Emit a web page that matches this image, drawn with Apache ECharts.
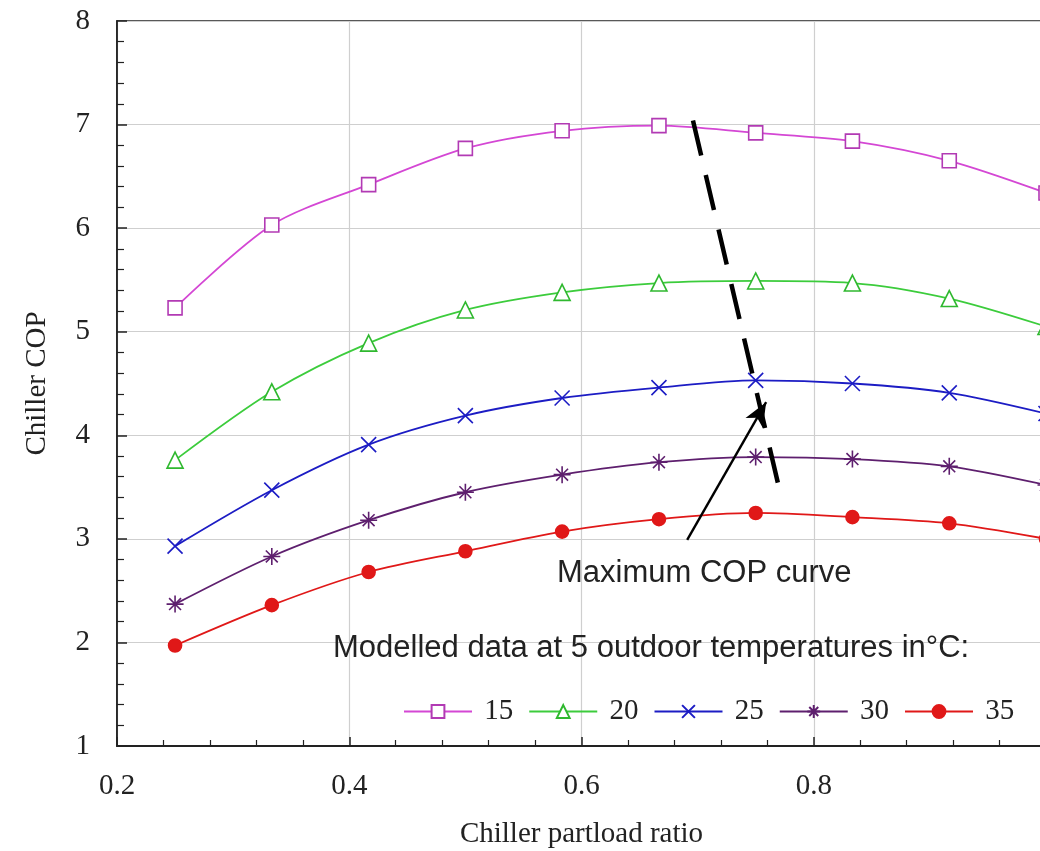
<!DOCTYPE html>
<html>
<head>
<meta charset="utf-8">
<script src="https://cdn.jsdelivr.net/npm/echarts@6/dist/echarts.min.js"></script>
<style>
  html, body { margin: 0; padding: 0; background: #fff; }
  #chart { width: 1040px; height: 851px; }
</style>
</head>
<body>
<div id="chart"></div>
<script>
// ---- data ----
const partload = [0.25, 0.3333, 0.4167, 0.5, 0.5833, 0.6667, 0.75, 0.8333, 0.9167, 1.0];
const seriesNames = ['15', '20', '25', '30', '35'];
const cop15 = [5.23, 6.03, 6.42, 6.77, 6.94, 6.99, 6.92, 6.84, 6.65, 6.34];
const cop20 = [3.76, 4.42, 4.89, 5.21, 5.38, 5.47, 5.49, 5.47, 5.32, 5.05];
const cop25 = [2.93, 3.47, 3.91, 4.19, 4.36, 4.46, 4.53, 4.50, 4.41, 4.21];
const cop30 = [2.37, 2.83, 3.18, 3.45, 3.62, 3.74, 3.79, 3.77, 3.70, 3.52];
const cop35 = [1.97, 2.36, 2.68, 2.88, 3.07, 3.19, 3.25, 3.21, 3.15, 3.00];
const maxCopX = [0.696, 0.771];
const maxCopY = [7.04, 3.45];
const arrowStart = [0.691, 2.99];
const arrowEnd = [0.759, 4.32];
const xTickValues = [0.2, 0.4, 0.6, 0.8, 1.0];
const yTickValues = [1, 2, 3, 4, 5, 6, 7, 8];
const annotationText = 'Maximum COP curve';
const legendTitle = 'Modelled data at 5 outdoor temperatures in\u00B0C:';

// ---- build ----
const SERIF = '"Liberation Serif", "DejaVu Serif", serif';
const SANS = '"Liberation Sans", Arial, sans-serif';
const pair = (xs, ys) => xs.map((x, i) => [x, ys[i]]);

const styles = [
  { line: '#d447d4', border: '#b23ab4', fill: '#ffffff', symbol: 'rect', size: 14 },
  { line: '#3ccc3c', border: '#2fb82f', fill: '#ffffff', symbol: 'triangle', size: 16 },
  { line: '#1c1cc4', border: '#1c1cc4', fill: 'rgba(0,0,0,0)', symbol: 'path://M0,0L10,10M10,0L0,10', size: 15 },
  { line: '#5e1f6e', border: '#5e1f6e', fill: 'rgba(0,0,0,0)', symbol: 'path://M5,0L5,10M0,5L10,5M1.5,1.5L8.5,8.5M8.5,1.5L1.5,8.5', size: 17 },
  { line: '#e01818', border: '#e01818', fill: '#e01818', symbol: 'circle', size: 13 }
];
const values = [cop15, cop20, cop25, cop30, cop35];

const series = values.map((vals, i) => ({
  name: seriesNames[i],
  type: 'line',
  data: pair(partload, vals),
  smooth: 0.3,
  symbol: styles[i].symbol,
  symbolSize: styles[i].size,
  showAllSymbol: true,
  lineStyle: { color: styles[i].line, width: 1.8 },
  itemStyle: { color: styles[i].fill, borderColor: styles[i].border, borderWidth: 1.6 },
  emphasis: { disabled: true },
  z: 3
}));

series.push({
  name: 'maxcop',
  type: 'line',
  data: pair(maxCopX, maxCopY),
  symbol: 'none',
  lineStyle: { color: '#000', width: 4.5, type: [36, 20] },
  emphasis: { disabled: true },
  z: 5,
  markLine: {
    silent: true,
    symbol: ['none', 'arrow'],
    symbolSize: [15, 24],
    label: { show: false },
    lineStyle: { color: '#000', width: 2.4, type: 'solid' },
    data: [[{ coord: arrowStart }, { coord: arrowEnd }]]
  }
});

const chart = echarts.init(document.getElementById('chart'), null, { renderer: 'canvas' });
chart.setOption({
  animation: false,
  backgroundColor: '#fff',
  grid: {
    left: 117, top: 21, right: -6, bottom: 105,
    show: true, borderColor: '#222', borderWidth: 1.5,
    containLabel: false, outerBoundsMode: 'none'
  },
  legend: {
    data: seriesNames,
    left: 398, top: 692,
    itemWidth: 68, itemHeight: 16, itemGap: 15,
    formatter: ' {name}',
    textStyle: { fontFamily: SERIF, fontSize: 29, color: '#222' },
    selectedMode: false
  },
  xAxis: {
    type: 'value',
    min: xTickValues[0], max: xTickValues[xTickValues.length - 1], interval: 0.2,
    name: 'Chiller partload ratio',
    nameLocation: 'middle', nameGap: 74,
    nameTextStyle: { fontFamily: SERIF, fontSize: 29, color: '#222' },
    axisLine: { show: true, lineStyle: { color: '#222', width: 1.8 } },
    axisTick: { show: true, inside: true, length: 9, lineStyle: { color: '#222', width: 1.5 } },
    minorTick: { show: true, splitNumber: 5, length: 6, lineStyle: { color: '#222', width: 1.2 } },
    splitLine: { show: true, lineStyle: { color: '#cfcfcf', width: 1.2 } },
    axisLabel: {
      margin: 26, fontFamily: SERIF, fontSize: 29, color: '#222',
      formatter: v => (v >= 0.99 ? '' : v.toFixed(1))
    }
  },
  yAxis: {
    type: 'value',
    min: yTickValues[0], max: yTickValues[yTickValues.length - 1], interval: 1,
    name: 'Chiller COP',
    nameLocation: 'middle', nameGap: 65, nameRotate: 90,
    nameTextStyle: { fontFamily: SERIF, fontSize: 29, color: '#222' },
    axisLine: { show: true, lineStyle: { color: '#222', width: 1.8 } },
    axisTick: { show: true, inside: true, length: 10, lineStyle: { color: '#222', width: 1.5 } },
    minorTick: { show: true, splitNumber: 5, length: 7, lineStyle: { color: '#222', width: 1.2 } },
    splitLine: { show: true, lineStyle: { color: '#cfcfcf', width: 1.2 } },
    axisLabel: { margin: 27, fontFamily: SERIF, fontSize: 29, color: '#222' }
  },
  graphic: [
    {
      type: 'text', x: 557, y: 573, z: 10,
      style: { text: annotationText, font: '31px ' + SANS, fill: '#222',
               align: 'left', verticalAlign: 'middle', textAlign: 'left', textVerticalAlign: 'middle' }
    },
    {
      type: 'text', x: 333, y: 648, z: 10,
      style: { text: legendTitle, font: '31px ' + SANS, fill: '#222',
               align: 'left', verticalAlign: 'middle', textAlign: 'left', textVerticalAlign: 'middle' }
    }
  ],
  series: series
});
</script>
</body>
</html>
